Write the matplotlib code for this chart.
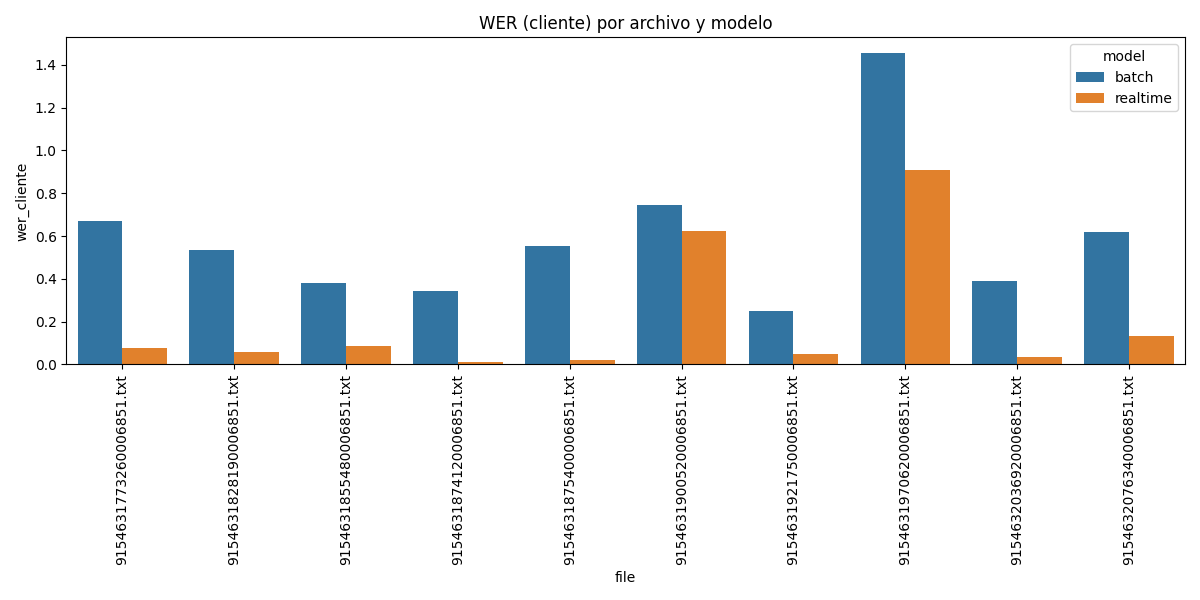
import matplotlib
matplotlib.use('Agg')
import matplotlib.pyplot as plt
import pandas as pd
import seaborn as sns

files = ['9154631773260006851.txt', '9154631828190006851.txt', '9154631855480006851.txt',
         '9154631874120006851.txt', '9154631875400006851.txt', '9154631900520006851.txt',
         '9154631921750006851.txt', '9154631970620006851.txt', '9154632036920006851.txt',
         '9154632076340006851.txt']
batch = [0.670, 0.534, 0.380, 0.342, 0.552, 0.744, 0.248, 1.456, 0.389, 0.618]
realtime = [0.075, 0.056, 0.084, 0.010, 0.019, 0.623, 0.047, 0.908, 0.033, 0.131]

df = pd.DataFrame({
    'file': files * 2,
    'model': ['batch'] * len(files) + ['realtime'] * len(files),
    'wer_cliente': batch + realtime,
})

fig, ax = plt.subplots(figsize=(12, 6))
sns.barplot(data=df, x='file', y='wer_cliente', hue='model', ax=ax)
ax.set_title('WER (cliente) por archivo y modelo')
plt.xticks(rotation=90)
plt.tight_layout()
plt.savefig('out.png', dpi=100)
